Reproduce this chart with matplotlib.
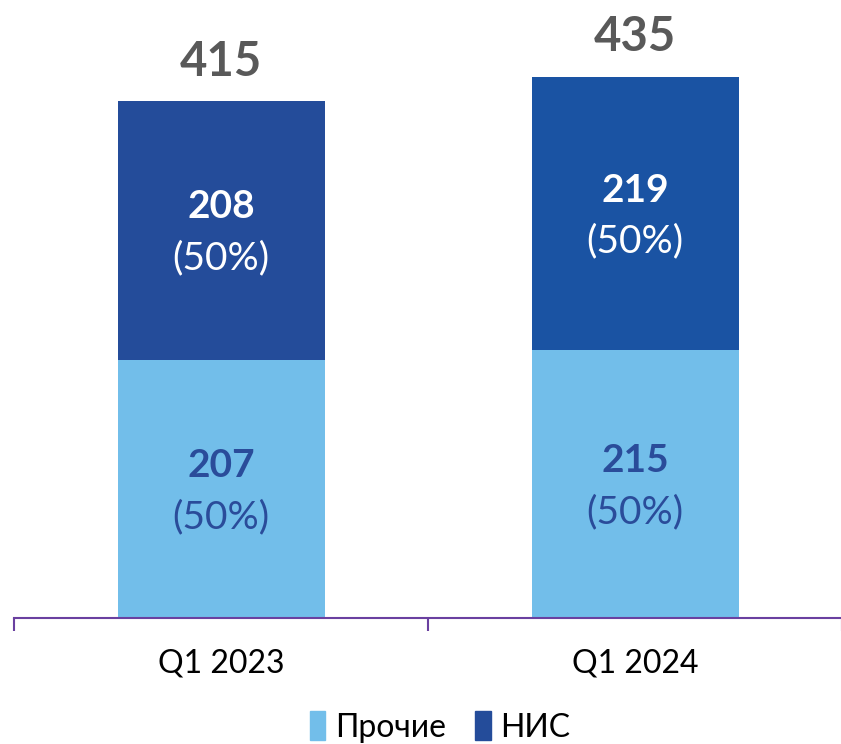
import matplotlib
matplotlib.use('Agg')
import matplotlib.pyplot as plt
from matplotlib.patches import Patch

plt.rcParams['font.family'] = ['Lato', 'DejaVu Sans']

# data
categories = ['Q1 2023', 'Q1 2024']
other = [207, 215]
nis = [208, 219]
other_pct = ['(50%)', '(50%)']
nis_pct = ['(50%)', '(50%)']
totals = [415, 435]

light = '#72BEEA'
dark = ['#244C9A', '#1A53A3']
label_blue = '#2A4C9A'
axis_col = '#6A40A0'

fig = plt.figure(figsize=(8.41, 7.44), dpi=100)
ax = fig.add_axes([14 / 841, 126 / 744, 828 / 841, 618 / 744])

x = list(range(len(categories)))
ax.bar(x, other, width=0.5, color=light, label='Прочие')
ax.bar(x, nis, width=0.5, bottom=other, color=dark, label='НИС')

for i in x:
    # lower segment labels
    mid = other[i] / 2
    ax.annotate(str(other[i]), (i, mid), xytext=(0, 17), textcoords='offset points',
                ha='center', va='center', fontsize=28, fontweight='bold', color=label_blue)
    ax.annotate(other_pct[i], (i, mid), xytext=(0, -20), textcoords='offset points',
                ha='center', va='center', fontsize=28, color=label_blue)
    # upper segment labels
    mid = other[i] + nis[i] / 2
    ax.annotate(str(nis[i]), (i, mid), xytext=(0, 17), textcoords='offset points',
                ha='center', va='center', fontsize=28, fontweight='bold', color='white')
    ax.annotate(nis_pct[i], (i, mid), xytext=(0, -20), textcoords='offset points',
                ha='center', va='center', fontsize=28, color='white')
    # totals
    ax.annotate(str(totals[i]), (i, totals[i]), xytext=(0, 28), textcoords='offset points',
                ha='center', va='center', fontsize=34, fontweight='bold', color='#595959')

ax.set_xlim(-0.5, 1.5)
ax.set_ylim(0, 496)
for s in ['top', 'right', 'left']:
    ax.spines[s].set_visible(False)
ax.spines['bottom'].set_color(axis_col)
ax.spines['bottom'].set_linewidth(1.5)
ax.set_yticks([])
ax.set_xticks([-0.5, 0.5, 1.5])
ax.set_xticklabels([])
ax.set_xticks(x, minor=True)
ax.set_xticklabels(categories, minor=True, fontsize=23)
ax.tick_params(axis='x', which='major', length=9, width=1.5, color=axis_col, direction='out')
ax.tick_params(axis='x', which='minor', length=0, pad=22)

handles = [Patch(color=light), Patch(color=dark[0])]
fig.legend(handles, ['Прочие', 'НИС'], loc='center', bbox_to_anchor=(440 / 841, 1 - 727 / 744),
           ncol=2, frameon=False, fontsize=23, handlelength=0.5, handleheight=1.0,
           handletextpad=0.3, columnspacing=0.9)

fig.savefig('out.png', dpi=100)
